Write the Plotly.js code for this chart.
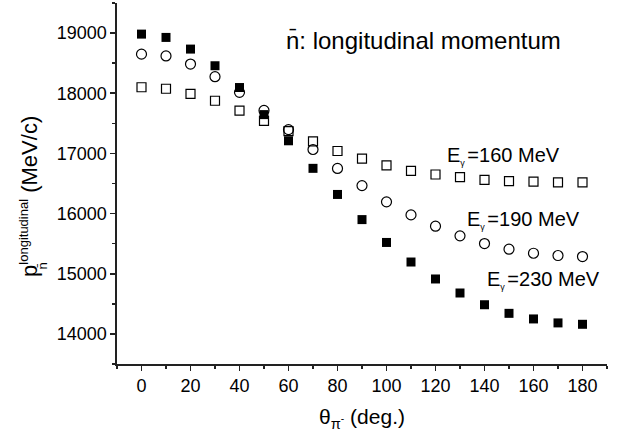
<!DOCTYPE html>
<html>
<head>
<meta charset="utf-8">
<script src="https://cdn.plot.ly/plotly-3.0.1.min.js"></script>
<style>html,body{margin:0;padding:0;background:#fff;}#chart{width:627px;height:439px;}</style>
</head>
<body>
<div id="chart"></div>
<script>
var theta = [0, 10, 20, 30, 40, 50, 60, 70, 80, 90, 100, 110, 120, 130, 140, 150, 160, 170, 180];
var p160 = [18100, 18075, 17990, 17875, 17710, 17540, 17370, 17200, 17040, 16915, 16800, 16710, 16650, 16605, 16560, 16540, 16530, 16520, 16520];
var p190 = [18650, 18620, 18485, 18275, 18015, 17715, 17395, 17065, 16750, 16465, 16195, 15978, 15790, 15630, 15502, 15408, 15341, 15303, 15286];
var p230 = [18983, 18928, 18734, 18457, 18095, 17645, 17210, 16752, 16318, 15900, 15520, 15195, 14913, 14680, 14485, 14342, 14249, 14183, 14160];
var seriesLabels = ["E<sub><span style='font-size:9px'>\u03b3 </span></sub>=160 MeV", "E<sub><span style='font-size:9px'>\u03b3 </span></sub>=190 MeV", "E<sub><span style='font-size:9px'>\u03b3 </span></sub>=230 MeV"];
var labelPos = [[124, 16950], [132, 15900], [140, 14900]];
var chartTitle = 'n\u0304: longitudinal momentum';
var xTitle = '\u03b8<sub>\u03c0<sup>-</sup></sub> (deg.)';
var yTitleMain = 'p<sup><span style="font-size:13px">longitudinal</span></sup> (MeV/c)';
var yTitleSub = 'n\u0304';

var FONT = 'Liberation Sans, Arial, sans-serif';
var traces = [
  {x: theta, y: p160, mode: 'markers', type: 'scatter',
   marker: {symbol: 'square-open', size: 9, color: '#000', line: {width: 1.2, color: '#000'}}},
  {x: theta, y: p190, mode: 'markers', type: 'scatter',
   marker: {symbol: 'circle-open', size: 10, color: '#000', line: {width: 1.2, color: '#000'}}},
  {x: theta, y: p230, mode: 'markers', type: 'scatter',
   marker: {symbol: 'square', size: 9, color: '#000', line: {width: 0}}}
];
var annotations = [
  {xref: 'paper', yref: 'paper', x: 0.625, y: 0.897, xanchor: 'center', yanchor: 'middle',
   text: chartTitle, showarrow: false, font: {family: FONT, size: 24, color: '#000'}},
  {xref: 'paper', yref: 'paper', x: -0.18, y: 0.465, xanchor: 'center', yanchor: 'middle', textangle: -90,
   text: yTitleMain, showarrow: false, font: {family: FONT, size: 22, color: '#000'}},
  {xref: 'paper', yref: 'paper', x: -0.151, y: 0.27, xanchor: 'center', yanchor: 'middle', textangle: -90,
   text: yTitleSub, showarrow: false, font: {family: FONT, size: 13, color: '#000'}}
];
for (var i = 0; i < 3; i++) {
  annotations.push({x: labelPos[i][0], y: labelPos[i][1], xref: 'x', yref: 'y', xanchor: 'left', yanchor: 'middle',
    text: seriesLabels[i], showarrow: false, font: {family: FONT, size: 20, color: '#000'}});
}
var axisCommon = {
  showline: true, linecolor: '#222', linewidth: 1.6, mirror: false, showgrid: false, zeroline: false,
  ticks: 'outside', ticklen: 5, tickwidth: 1.6, tickcolor: '#222',
  tickfont: {family: FONT, size: 18, color: '#000'}
};
var layout = {
  width: 627, height: 439,
  margin: {l: 117, r: 20, t: 3, b: 75},
  paper_bgcolor: '#fff', plot_bgcolor: '#fff',
  showlegend: false,
  font: {family: FONT, color: '#000'},
  xaxis: Object.assign({}, axisCommon, {
    range: [-10, 190], tickmode: 'linear', tick0: 0, dtick: 20,
    minor: {dtick: 10, ticklen: 3, tickwidth: 1.6, tickcolor: '#222', ticks: 'outside'},
    title: {text: xTitle, font: {family: FONT, size: 21, color: '#000'}, standoff: 14}
  }),
  yaxis: Object.assign({}, axisCommon, {
    range: [13500, 19500], tickmode: 'linear', tick0: 14000, dtick: 1000, tickformat: 'd',
    minor: {dtick: 500, ticklen: 3, tickwidth: 1.6, tickcolor: '#222', ticks: 'outside'}
  }),
  annotations: annotations
};
Plotly.newPlot('chart', traces, layout, {displayModeBar: false, staticPlot: true});
</script>
</body>
</html>
